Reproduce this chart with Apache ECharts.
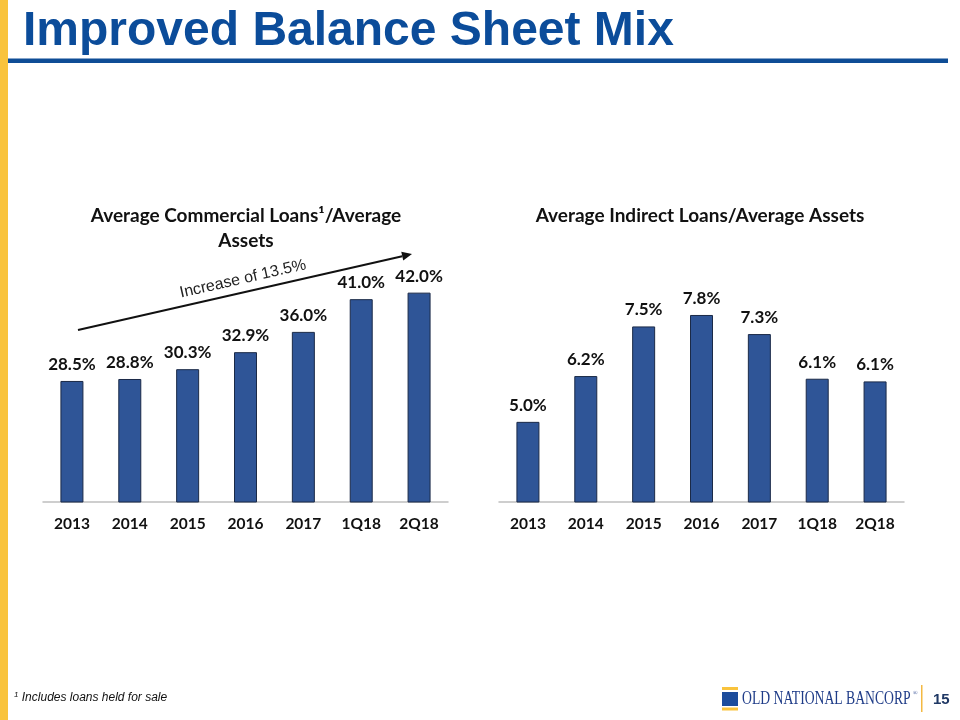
<!DOCTYPE html>
<html>
<head>
<meta charset="utf-8">
<script src="https://cdn.jsdelivr.net/npm/echarts@6/dist/echarts.min.js"></script>
<style>
html,body{margin:0;padding:0;background:#fff;}
#chart{width:960px;height:720px;}
</style>
</head>
<body>
<div id="chart"></div>
<script>
const categories = ['2013', '2014', '2015', '2016', '2017', '1Q18', '2Q18'];
const commercialValues = [28.5, 28.8, 30.3, 32.9, 36.0, 41.0, 42.0];
const indirectValues = [5.0, 6.2, 7.5, 7.8, 7.3, 6.13, 6.06];

const pageTitle = 'Improved Balance Sheet Mix';
const leftTitleLines = ['Average Commercial Loans\u00b9/Average', 'Assets'];
const rightTitle = 'Average Indirect Loans/Average Assets';
const annotationText = 'Increase of 13.5%';
const footnote = 'Includes loans held for sale';
const logoText = 'OLD NATIONAL BANCORP';
const pageNumber = '15';

const BAR = '#2F5597';
const BAR_BORDER = '#1B2A47';
const LABEL_FONT = 'Lato, "Noto Sans", sans-serif';

const chart = echarts.init(document.getElementById('chart'), null, {renderer: 'canvas'});

function barSeries(values, xi) {
  return {
    type: 'bar',
    xAxisIndex: xi,
    yAxisIndex: xi,
    data: values,
    barWidth: 23,
    itemStyle: {color: BAR, borderColor: BAR_BORDER, borderWidth: 1},
    label: {
      show: true,
      position: 'top',
      distance: 8,
      formatter: p => p.value.toFixed(1) + '%',
      fontFamily: LABEL_FONT,
      fontWeight: 'bold',
      fontSize: 17,
      color: '#111'
    },
    silent: true
  };
}

function xAxisCfg(gi) {
  return {
    type: 'category',
    gridIndex: gi,
    data: categories,
    axisLine: {show: true, lineStyle: {color: '#BFBFBF', width: 1.5}},
    axisTick: {show: false},
    axisLabel: {
      margin: 14,
      fontFamily: LABEL_FONT,
      fontWeight: 'bold',
      fontSize: 15.5,
      color: '#111'
    }
  };
}

// annotation arrow geometry
const ax0 = 78, ay0 = 330, ax1 = 412, ay1 = 254;
const dx = ax1 - ax0, dy = ay1 - ay0, len = Math.sqrt(dx * dx + dy * dy);
const ux = dx / len, uy = dy / len;
const hl = 10, hw = 4.5;
const bx = ax1 - ux * hl, by = ay1 - uy * hl;
const ang = Math.atan2(-dy, dx);

chart.setOption({
  animation: false,
  grid: [
    {left: 43, top: 273, width: 405, height: 229},
    {left: 499, top: 273, width: 405, height: 229}
  ],
  xAxis: [xAxisCfg(0), xAxisCfg(1)],
  yAxis: [
    {type: 'value', gridIndex: 0, min: 10, max: 45, show: false},
    {type: 'value', gridIndex: 1, min: 2.9, max: 8.9, show: false}
  ],
  series: [barSeries(commercialValues, 0), barSeries(indirectValues, 1)],
  graphic: [
    {type: 'rect', shape: {x: 0, y: 0, width: 8, height: 720}, style: {fill: '#F9C33C'}},
    {type: 'rect', shape: {x: 8, y: 58.5, width: 940, height: 4.5}, style: {fill: '#0E4D96'}},
    {type: 'text', x: 23, y: 32, style: {text: pageTitle, font: 'bold 48px "Liberation Sans", Arial, sans-serif', fill: '#0B4C9A', textAlign: 'left', textVerticalAlign: 'middle'}},
    {type: 'text', x: 246, y: 216, style: {text: leftTitleLines[0], font: 'bold 19px ' + LABEL_FONT, fill: '#111', textAlign: 'center', textVerticalAlign: 'middle'}},
    {type: 'text', x: 246, y: 241, style: {text: leftTitleLines[1], font: 'bold 19px ' + LABEL_FONT, fill: '#111', textAlign: 'center', textVerticalAlign: 'middle'}},
    {type: 'text', x: 700, y: 216, style: {text: rightTitle, font: 'bold 19px ' + LABEL_FONT, fill: '#111', textAlign: 'center', textVerticalAlign: 'middle'}},
    {type: 'line', shape: {x1: ax0, y1: ay0, x2: bx, y2: by}, style: {stroke: '#111', lineWidth: 2}},
    {type: 'polygon', shape: {points: [[ax1, ay1], [bx - uy * hw, by + ux * hw], [bx + uy * hw, by - ux * hw]]}, style: {fill: '#111'}},
    {type: 'text', x: 243, y: 279, rotation: ang, style: {text: annotationText, font: '16px "Liberation Sans", Arial, sans-serif', fill: '#222', textAlign: 'center', textVerticalAlign: 'middle'}},
    {type: 'text', x: 14, y: 698, style: {text: '{s|1} {t|' + footnote + '}', rich: {s: {fontSize: 8, fontStyle: 'italic', fontFamily: '"Liberation Sans", Arial', verticalAlign: 'top', padding: [0, 0, 6, 0], fill: '#111'}, t: {fontSize: 12, fontStyle: 'italic', fontFamily: '"Liberation Sans", Arial', fill: '#111'}}, textVerticalAlign: 'middle'}},
    {type: 'rect', shape: {x: 722, y: 687, width: 16, height: 3}, style: {fill: '#F9C33C'}},
    {type: 'rect', shape: {x: 722, y: 692, width: 16, height: 14}, style: {fill: '#1B4C9C'}},
    {type: 'rect', shape: {x: 722, y: 707.5, width: 16, height: 3}, style: {fill: '#F9C33C'}},
    {type: 'text', x: 742, y: 699, scaleX: 0.72, style: {text: logoText, font: '19px "Liberation Serif", "DejaVu Serif", serif', fill: '#1F3C88', textAlign: 'left', textVerticalAlign: 'middle'}},
    {type: 'text', x: 913, y: 693, style: {text: '\u00ae', font: '6px "Liberation Serif", serif', fill: '#1F3C88', textAlign: 'left', textVerticalAlign: 'middle'}},
    {type: 'rect', shape: {x: 921, y: 685, width: 1.5, height: 27}, style: {fill: '#F4B942'}},
    {type: 'text', x: 933, y: 700, style: {text: pageNumber, font: 'bold 15px "Liberation Sans", Arial, sans-serif', fill: '#1F3864', textAlign: 'left', textVerticalAlign: 'middle'}}
  ]
});
</script>
</body>
</html>
